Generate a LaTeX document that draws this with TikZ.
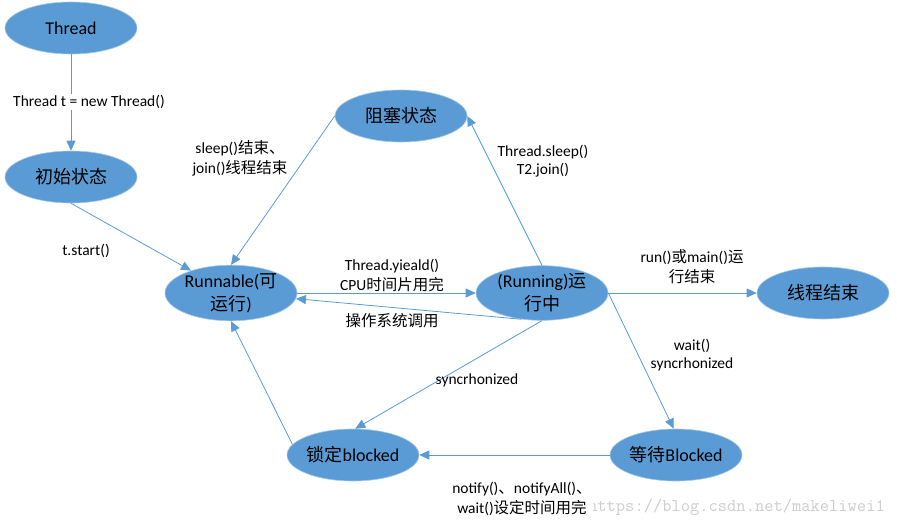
\documentclass[tikz,border=0pt]{standalone}
\usepackage{fontspec}
\setmainfont{Carlito}
\newfontfamily\cjk{Noto Sans CJK SC}
\usetikzlibrary{arrows.meta,shapes.geometric}
\definecolor{stateblue}{HTML}{5B9BD5}
\definecolor{markgray}{HTML}{CDCDCD}
\newcommand{\zh}[1]{{\cjk #1}}

\begin{document}
\begin{tikzpicture}[
    x=1pt, y=-1pt,
    state/.style={ellipse, fill=stateblue, draw=stateblue!55!white, line width=0.6pt, minimum width=132pt, minimum height=52pt, inner sep=0pt, align=center, font=\fontsize{18}{23}\selectfont},
    note/.style={inner sep=1pt, align=center, font=\fontsize{15.5}{20}\selectfont},
    cover/.style={note, fill=white},
    line/.style={-{Triangle[length=10pt,width=9pt]}, draw=stateblue, line width=0.8pt}
]
\useasboundingbox (0,0) rectangle (897,527);

% watermark
\node[anchor=east, text=markgray, inner sep=0pt, font=\ttfamily\fontsize{18}{20}\selectfont] (mark) at (885,507) {https://blog.csdn.net/makeliwei1};

% states
\node[state] (thread) at (71,28) {Thread};
\node[state] (init) at (71,177) {\zh{初始状态}};
\node[state] (block) at (401,116) {\zh{阻塞状态}};
\node[state] (run) at (231,293) {Runnable(\zh{可}\\\zh{运行})};
\node[state] (running) at (542,293) {(Running)\zh{运}\\\zh{行中}};
\node[state] (end) at (823,293) {\zh{线程结束}};
\node[state] (lock) at (353,455) {\zh{锁定}blocked};
\node[state] (wait) at (676,455) {\zh{等待}Blocked};

% transitions
\draw[line] (thread) -- (init);
\draw[line] (init.south) -- (run);
\draw[line] (block.west) -- (run.north);
\draw[line] (running.north) -- (block.east);
\draw[line] (run.east) -- (running.west);
\draw[line] (running.-128) -- (run.-5);
\draw[line] (running.east) -- (end.west);
\draw[line] (running.south) -- (lock.85);
\draw[line] (running.east) -- (wait.95);
\draw[line] (wait.west) -- (lock.east);
\draw[line] (lock.170) -- (run.south);

% labels
\node[cover] (newlbl) at (89,102) {Thread t = new Thread()};
\node[note] (startlbl) at (86,251) {t.start()};
\node[note] (wakelbl) at (240,158) {sleep()\zh{结束、}\\join()\zh{线程结束}};
\node[note, font=\fontsize{15.5}{18}\selectfont] (sleeplbl) at (543,161) {Thread.sleep()\\T2.join()};
\node[note] (yieldlbl) at (392,275) {Thread.yieald()\\CPU\zh{时间片用完}};
\node[note] (oslbl) at (392,321) {\zh{操作系统调用}};
\node[note] (donelbl) at (692,267) {run()\zh{或}main()\zh{运}\\\zh{行结束}};
\node[note] (synclbl) at (477,380) {syncrhonized};
\node[note, font=\fontsize{15.5}{17.5}\selectfont] (waitlbl) at (692,355) {wait()\\syncrhonized};
\node[cover] (notifylbl) at (522,499) {notify()\zh{、}notifyAll()\zh{、}\\wait()\zh{设定时间用完}};
\end{tikzpicture}
\end{document}
